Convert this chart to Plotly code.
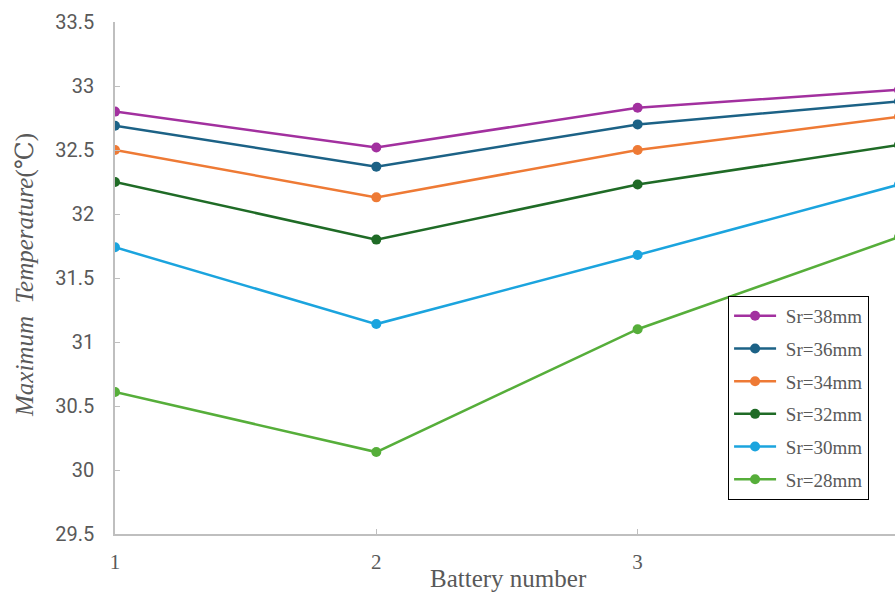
import plotly.graph_objects as go

# Battery positions and maximum temperatures for each rib spacing
battery = [1, 2, 3, 4]
series_names = ["Sr=38mm", "Sr=36mm", "Sr=34mm", "Sr=32mm", "Sr=30mm", "Sr=28mm"]
sr38 = [32.80, 32.52, 32.83, 32.97]
sr36 = [32.69, 32.37, 32.70, 32.88]
sr34 = [32.50, 32.13, 32.50, 32.76]
sr32 = [32.25, 31.80, 32.23, 32.54]
sr30 = [31.74, 31.14, 31.68, 32.23]
sr28 = [30.61, 30.14, 31.10, 31.82]
series_values = [sr38, sr36, sr34, sr32, sr30, sr28]
colors = ["#A2309F", "#1C6286", "#EE7A35", "#1F6B26", "#1BA4DE", "#56AE3A"]
y_ticks = [29.5, 30, 30.5, 31, 31.5, 32, 32.5, 33, 33.5]
x_ticks = [1, 2, 3]

serif = "Liberation Serif, DejaVu Serif, serif"
grey = "#595959"

fig = go.Figure()
for name, vals, col in zip(series_names, series_values, colors):
    fig.add_trace(go.Scatter(
        x=battery, y=vals, name=" " + name, mode="lines+markers",
        line=dict(color=col, width=2.5),
        marker=dict(color=col, size=10),
        legendgroup=name,
    ))

fig.update_layout(
    width=895, height=594,
    margin=dict(l=115, r=0, t=22, b=60),
    plot_bgcolor="white", paper_bgcolor="white",
    showlegend=True,
    legend=dict(
        x=0.786, y=0.465, xanchor="left", yanchor="top",
        bordercolor="black", borderwidth=1, bgcolor="white",
        font=dict(family=serif, size=19, color=grey),
        tracegroupgap=5, itemwidth=42,
    ),
    xaxis=dict(
        range=[1, 3.985], tickvals=x_ticks, ticktext=[str(t) for t in x_ticks],
        showgrid=False, zeroline=False,
        showline=True, linecolor="#BFBFBF", linewidth=1.5,
        ticks="inside", ticklen=5, tickcolor="#BFBFBF",
        tickfont=dict(family=serif, size=21, color=grey),
        ticklabelstandoff=8,
    ),
    yaxis=dict(
        range=[29.5, 33.5], tickvals=y_ticks,
        ticktext=[f"{t:g}" for t in y_ticks],
        showgrid=False, zeroline=False,
        showline=True, linecolor="#BFBFBF", linewidth=1.5,
        ticks="inside", ticklen=5, tickcolor="#BFBFBF",
        tickfont=dict(family="Roboto, sans-serif", size=20, color=grey),
        ticklabelstandoff=15,
    ),
    annotations=[
        dict(text="Battery number", xref="paper", yref="paper",
             x=(508 - 115) / 780, y=-(578 - 534) / 512,
             xanchor="center", yanchor="middle", showarrow=False,
             font=dict(family=serif, size=25, color=grey)),
        dict(text="<i>Maximum  Temperature</i>(℃)", xref="paper", yref="paper",
             x=-(115 - 25) / 780, y=(534 - 275) / 512,
             xanchor="center", yanchor="middle", showarrow=False,
             textangle=-90,
             font=dict(family=serif, size=25, color=grey)),
    ],
)

fig.write_html("out.html")
